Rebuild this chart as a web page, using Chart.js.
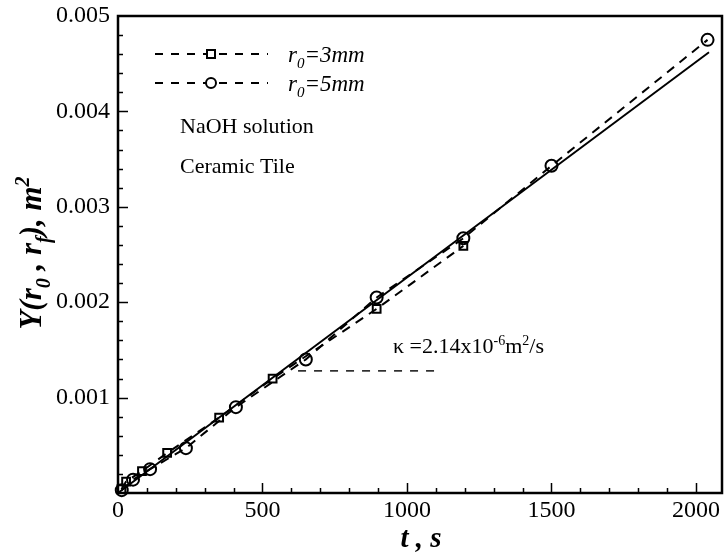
<!DOCTYPE html>
<html>
<head>
<meta charset="utf-8">
<script src="https://cdn.jsdelivr.net/npm/chart.js@4.4.0/dist/chart.umd.min.js"></script>
<style>
  html, body { margin: 0; padding: 0; background: #fff; }
  #wrap { width: 724px; height: 558px; }
</style>
</head>
<body>
<div id="wrap"><canvas id="c"></canvas></div>
<script>
// r0 = 3mm (squares)
const r3T = [12, 28, 83, 170, 350, 535, 895, 1195];
const r3Y = [0.00004, 0.00012, 0.00023, 0.00042, 0.00079, 0.00120, 0.00193, 0.00259];
// r0 = 5mm (circles)
const r5T = [13, 52, 111, 235, 408, 650, 895, 1195, 1500, 2040];
const r5Y = [0.00003, 0.00014, 0.00025, 0.00047, 0.00090, 0.00140, 0.00205, 0.00267, 0.00343, 0.00475];
// linear fit (solid)
const fitT = [0, 2045];
const fitY = [0, 0.00462];
// dashed guide under the kappa note
const kT = [623, 1114];
const kY = [0.00128, 0.00128];
// axes
const xTicks = [0, 500, 1000, 1500, 2000];
const yTicks = [0.001, 0.002, 0.003, 0.004, 0.005];

const SERIF = '"Liberation Serif", "Times New Roman", serif';
const pts = (t, y) => t.map((v, i) => ({ x: v, y: y[i] }));

// draws text pieces with sub/superscripts, returns width
function richText(ctx, parts, x, y, size, style, measureOnly) {
    let cx = x;
    parts.forEach(p => {
        const s = p.sub || p.sup ? Math.round(size * 0.65) : size;
        ctx.font = `${style} ${s}px ${SERIF}`;
        const dy = p.sub ? size * 0.28 : (p.sup ? -size * 0.38 : 0);
        if (!measureOnly) ctx.fillText(p.t, cx, y + dy);
        cx += ctx.measureText(p.t).width;
    });
    return cx - x;
}

const framePlugin = {
    id: 'frame',
    afterDatasetsDraw(chart) {
        const { ctx, chartArea: a, scales } = chart;
        const xs = scales.x, ys = scales.y;
        ctx.save();
        ctx.strokeStyle = '#000';
        ctx.lineWidth = 2.5;
        ctx.strokeRect(a.left, a.top, a.right - a.left, a.bottom - a.top);

        // inward ticks
        ctx.lineWidth = 1.5;
        ctx.beginPath();
        for (let v = 100; v <= xs.max; v += 100) {
            const px = Math.round(xs.getPixelForValue(v)) + 0.5;
            const len = v % 500 === 0 ? 10 : 5;
            ctx.moveTo(px, a.bottom);
            ctx.lineTo(px, a.bottom - len);
        }
        for (let k = 1; k < 25; k++) {
            const v = k * 0.0002;
            const py = Math.round(ys.getPixelForValue(v)) + 0.5;
            const len = k % 5 === 0 ? 10 : 5;
            ctx.moveTo(a.left, py);
            ctx.lineTo(a.left + len, py);
        }
        ctx.stroke();

        ctx.fillStyle = '#000';

        // x tick labels
        ctx.font = `24px ${SERIF}`;
        ctx.textAlign = 'center';
        ctx.textBaseline = 'middle';
        xTicks.forEach(v => ctx.fillText(String(v), xs.getPixelForValue(v), a.bottom + 18));
        ctx.textAlign = 'left';
        ctx.textBaseline = 'alphabetic';

        // legend
        const rows = [{ y: 54, shape: 'rect', label: '3mm' }, { y: 83, shape: 'circle', label: '5mm' }];
        rows.forEach(r => {
            ctx.lineWidth = 2;
            ctx.setLineDash([8, 8]);
            ctx.beginPath();
            ctx.moveTo(155, r.y);
            ctx.lineTo(268, r.y);
            ctx.stroke();
            ctx.setLineDash([]);
            ctx.fillStyle = '#fff';
            ctx.beginPath();
            if (r.shape === 'rect') ctx.rect(207, r.y - 4, 8, 8);
            else ctx.arc(211, r.y, 5, 0, Math.PI * 2);
            ctx.fill();
            ctx.stroke();
            ctx.fillStyle = '#000';
            richText(ctx, [{ t: 'r' }, { t: '0', sub: true }, { t: '=' + r.label }], 288, r.y + 8, 23, 'italic', false);
        });

        ctx.font = `22px ${SERIF}`;
        ctx.fillText('NaOH solution', 180, 133);
        ctx.fillText('Ceramic Tile', 180, 173);

        // kappa note
        richText(ctx, [{ t: '\u03BA =2.14x10' }, { t: '-6', sup: true }, { t: 'm' }, { t: '2', sup: true }, { t: '/s' }], 393, 353, 22, '', false);

        // x title
        ctx.font = `bold italic 29px ${SERIF}`;
        ctx.textAlign = 'center';
        ctx.fillText('t , s', 421, 547);
        ctx.textAlign = 'left';

        // y title
        const yParts = [{ t: 'Y(r' }, { t: '0', sub: true }, { t: ' , r' }, { t: 'f', sub: true }, { t: '), m' }, { t: '2', sup: true }];
        ctx.translate(41, 253);
        ctx.rotate(-Math.PI / 2);
        const w = richText(ctx, yParts, 0, 0, 31, 'bold italic', true);
        richText(ctx, yParts, -w / 2, 0, 31, 'bold italic', false);
        ctx.restore();
    }
};

new Chart(document.getElementById('c'), {
    type: 'scatter',
    data: {
        datasets: [
            {
                data: pts(fitT, fitY), showLine: true, borderColor: '#000', borderWidth: 2,
                pointRadius: 0
            },
            {
                data: pts(r3T, r3Y), showLine: true, borderColor: '#000', borderWidth: 2,
                borderDash: [9, 7], pointStyle: 'rect', pointRadius: 5.5,
                pointBackgroundColor: 'rgba(255,255,255,0)', pointBorderColor: '#000', pointBorderWidth: 2
            },
            {
                data: pts(r5T, r5Y), showLine: true, borderColor: '#000', borderWidth: 2,
                borderDash: [9, 7], pointStyle: 'circle', pointRadius: 6,
                pointBackgroundColor: 'rgba(255,255,255,0)', pointBorderColor: '#000', pointBorderWidth: 2
            },
            {
                data: pts(kT, kY), showLine: true, borderColor: '#000', borderWidth: 1.4,
                borderDash: [8, 8], pointRadius: 0
            }
        ]
    },
    options: {
        responsive: true,
        maintainAspectRatio: false,
        animation: false,
        clip: false,
        layout: { autoPadding: false, padding: { top: 16, right: 2, left: 0, bottom: 0 } },
        plugins: { legend: { display: false }, tooltip: { enabled: false } },
        scales: {
            x: {
                type: 'linear', min: 0, max: 2090,
                afterBuildTicks: s => { s.ticks = xTicks.map(v => ({ value: v })); },
                afterFit: s => { s.height = 65; },
                grid: { display: false, drawTicks: false }, border: { display: false },
                ticks: { display: false }
            },
            y: {
                type: 'linear', min: 0, max: 0.005,
                afterBuildTicks: s => { s.ticks = yTicks.map(v => ({ value: v })); },
                afterFit: s => { s.width = 118; s.paddingTop = 0; s.paddingBottom = 0; },
                grid: { display: false, drawTicks: false }, border: { display: false },
                ticks: {
                    color: '#000', padding: 8, font: { family: SERIF, size: 24 },
                    callback: v => v.toFixed(3)
                }
            }
        }
    },
    plugins: [framePlugin]
});
</script>
</body>
</html>
